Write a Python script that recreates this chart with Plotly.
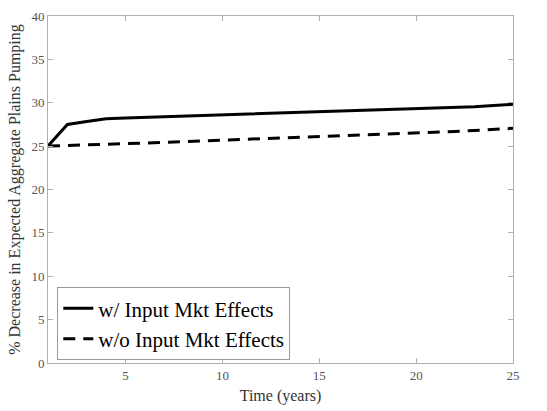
import plotly.graph_objects as go

years = list(range(1, 26))
with_mkt = [25.0, 27.5, 27.85, 28.15, 28.25, 28.32, 28.4, 28.48, 28.55, 28.62, 28.68, 28.74, 28.8,
            28.87, 28.94, 29.0, 29.07, 29.14, 29.2, 29.28, 29.36, 29.45, 29.55, 29.68, 29.82]
without_mkt = [25.0, 25.05, 25.12, 25.2, 25.28, 25.36, 25.44, 25.52, 25.6, 25.68, 25.76, 25.84, 25.92,
               26.0, 26.08, 26.16, 26.25, 26.34, 26.43, 26.52, 26.6, 26.7, 26.8, 26.92, 27.05]
xticks = [5, 10, 15, 20, 25]
yticks = [0, 5, 10, 15, 20, 25, 30, 35, 40]

font = "Liberation Serif"
fig = go.Figure()
fig.add_trace(go.Scatter(x=years, y=with_mkt, mode="lines", name="w/ Input Mkt Effects",
                         line=dict(color="black", width=3)))
fig.add_trace(go.Scatter(x=years, y=without_mkt, mode="lines", name="w/o Input Mkt Effects",
                         line=dict(color="black", width=3, dash="12px,8px")))

axis_common = dict(showgrid=False, zeroline=False, showline=True, linecolor="#b0b0b0", linewidth=1,
                   mirror="ticks", ticks="inside", ticklen=5, tickcolor="#b0b0b0",
                   tickfont=dict(family=font, size=13, color="#555555"))
fig.update_xaxes(range=[1, 25], tickvals=xticks,
                 title=dict(text="Time (years)", font=dict(family=font, size=16, color="#333333"), standoff=8),
                 **axis_common)
fig.update_yaxes(range=[0, 40], tickvals=yticks,
                 title=dict(text="% Decrease in Expected Aggregate Plains Pumping",
                            font=dict(family=font, size=16, color="#333333"), standoff=6),
                 **axis_common)
fig.update_layout(
    width=547, height=411,
    margin=dict(l=48, r=34, t=9, b=43),
    paper_bgcolor="white", plot_bgcolor="white",
    legend=dict(x=0.02, y=0.008, xanchor="left", yanchor="bottom",
                bgcolor="white", bordercolor="#999999", borderwidth=1,
                font=dict(family=font, size=21, color="black"),
                itemwidth=30, tracegroupgap=0),
    showlegend=True,
)
fig.write_html("out.html")
